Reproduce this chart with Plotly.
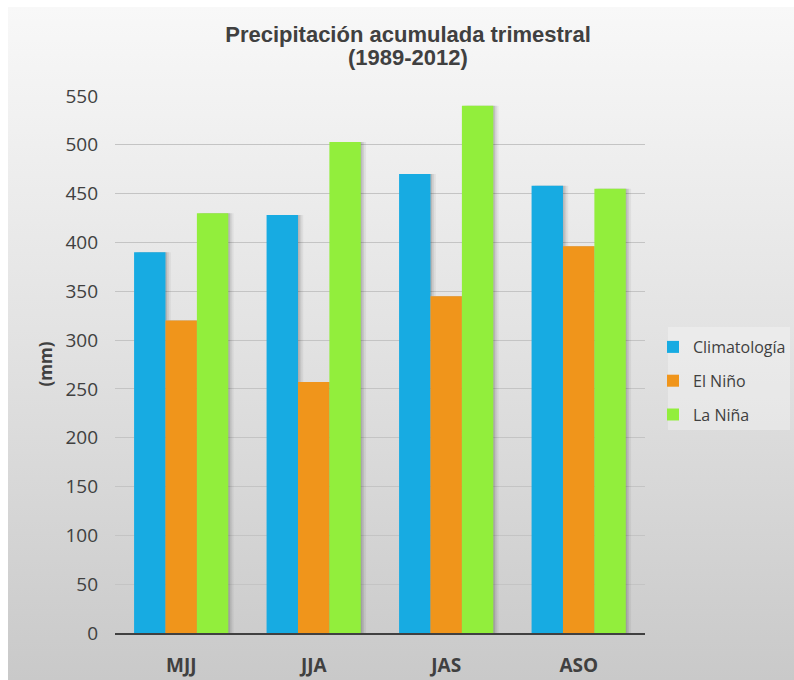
import base64
import plotly.graph_objects as go

# Trimestres y precipitación acumulada (mm), 1989-2012
trimestres = ["MJJ", "JJA", "JAS", "ASO"]
climatologia = [390, 428, 470, 458]
el_nino = [320, 257, 345, 396]
la_nina = [430, 503, 540, 455]

series = [
    ("Climatología", climatologia, "#17ABE2"),
    ("El Niño", el_nino, "#F0951B"),
    ("La Niña", la_nina, "#92EE3C"),
]

BAR_W = 0.237
OFFSETS = [-0.356, -0.119, 0.118]

# plot-area geometry in pixels (used to place paper-referenced decorations)
W, H = 794, 680
L, R, T, B = 115, 149, 96, 47
PW, PH = W - L - R, H - T - B


def px_x(px):
    return (px - L) / PW


def px_y(py):
    return (H - B - py) / PH


fig = go.Figure()

# soft drop shadows behind the bars
for (name, vals, _), off in zip(series, OFFSETS):
    for shift, alpha in [(0.04, 0.05), (0.025, 0.08), (0.012, 0.10)]:
        fig.add_trace(go.Bar(
            x=trimestres, y=vals, width=BAR_W, offset=off + shift,
            marker=dict(color=f"rgba(0,0,0,{alpha})", line=dict(width=0)),
            showlegend=False, hoverinfo="skip",
        ))

for i, ((name, vals, color), off) in enumerate(zip(series, OFFSETS)):
    fig.add_trace(go.Bar(
        x=trimestres, y=vals, name=name, width=BAR_W, offset=off,
        marker=dict(color=color, line=dict(width=0)),
        legendgroup=f"g{i}",
    ))

# grey gradient backdrop
svg = (
    '<svg xmlns="http://www.w3.org/2000/svg" width="100" height="100" preserveAspectRatio="none">'
    '<defs><linearGradient id="g" x1="0" y1="0" x2="0" y2="1">'
    '<stop offset="0" stop-color="#f8f8f8"/>'
    '<stop offset="0.5" stop-color="#e2e2e2"/>'
    '<stop offset="1" stop-color="#c9c9c9"/>'
    '</linearGradient></defs>'
    '<rect width="100" height="100" fill="url(#g)"/></svg>'
)
bg_src = "data:image/svg+xml;base64," + base64.b64encode(svg.encode()).decode()

TXT = "#404040"

fig.update_layout(
    width=W, height=H,
    margin=dict(l=L, r=R, t=T, b=B, autoexpand=False),
    paper_bgcolor="white",
    plot_bgcolor="rgba(0,0,0,0)",
    barmode="overlay",
    font=dict(family="Open Sans", color=TXT),
    title=dict(
        text="Precipitación acumulada trimestral",
        font=dict(family="Liberation Sans", size=22, color=TXT, weight="bold"),
        x=408 / W, xanchor="center", y=1 - 34 / H, yanchor="middle",
    ),
    images=[dict(
        source=bg_src, xref="paper", yref="paper",
        x=px_x(8), y=px_y(7), sizex=(W - 8) / PW, sizey=(H - 7) / PH,
        xanchor="left", yanchor="top", sizing="stretch", layer="below",
    )],
    shapes=[dict(
        type="rect", xref="paper", yref="paper",
        x0=px_x(668), x1=px_x(790), y0=px_y(430), y1=px_y(327),
        fillcolor="rgba(255,255,255,0.3)", line=dict(width=0), layer="below",
    )],
    annotations=[
        dict(text="(1989-2012)", xref="paper", yref="paper",
             x=px_x(408), y=px_y(58), xanchor="center", yanchor="middle",
             showarrow=False,
             font=dict(family="Liberation Sans", size=22, color=TXT, weight="bold")),
        dict(text="(mm)", xref="paper", yref="paper",
             x=px_x(45), y=0.5, xanchor="center", yanchor="middle",
             textangle=-90, showarrow=False,
             font=dict(family="Open Sans", size=17, color=TXT, weight="bold")),
    ],
    legend=dict(
        x=px_x(653), xanchor="left", y=px_y(330), yanchor="top",
        bgcolor="rgba(0,0,0,0)", font=dict(family="Open Sans", size=16, color=TXT),
        traceorder="grouped", tracegroupgap=10,
    ),
    showlegend=True,
    hovermode=False,
)

fig.update_xaxes(
    type="category", range=[-0.5, 3.5],
    showline=True, linecolor="#404040", linewidth=2,
    showgrid=False, ticks="", ticklabelstandoff=14,
    tickfont=dict(family="Open Sans", size=19, color=TXT, weight="bold"),
)
fig.update_yaxes(
    range=[0, 550], dtick=50, tick0=0,
    showgrid=True, gridcolor="#c4c4c4", gridwidth=1,
    zeroline=False, showline=False, ticks="", ticklabelstandoff=16,
    tickfont=dict(family="Open Sans", size=19, color=TXT),
)

fig.write_html("out.html")
